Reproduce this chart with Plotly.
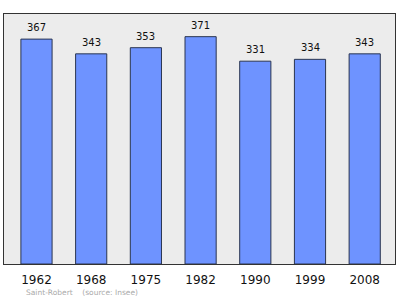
import plotly.graph_objects as go

years = ["1962", "1968", "1975", "1982", "1990", "1999", "2008"]
population = [367, 343, 353, 371, 331, 334, 343]
source_note = "Saint-Robert    (source: Insee)"

positions = list(range(len(years)))

fig = go.Figure()
fig.add_trace(go.Bar(
    x=positions, y=population, width=0.57,
    marker=dict(color="#6e93ff", line=dict(color="#2a3550", width=1)),
    hoverinfo="skip",
))

for p, v in zip(positions, population):
    fig.add_annotation(x=p, y=v, text=str(v), showarrow=False,
                       yanchor="bottom", yshift=4,
                       font=dict(family="DejaVu Sans", size=10, color="#111"))

fig.add_annotation(xref="paper", yref="paper", x=(24 - 4) / 391, y=-(292 - 264) / 250,
                   xanchor="left", yanchor="middle", showarrow=False,
                   text=source_note,
                   font=dict(family="DejaVu Sans", size=7.5, color="#aaaaaa"))

fig.update_layout(
    width=400, height=299,
    margin=dict(l=4, r=5, t=14, b=35),
    paper_bgcolor="white", plot_bgcolor="#ececec",
    showlegend=False,
    xaxis=dict(range=[-0.594, 6.554], tickvals=positions, ticktext=years,
               showgrid=False, zeroline=False, showline=True, mirror=True,
               linecolor="#333", linewidth=1, ticks="", ticklen=0,
               ticklabelstandoff=5,
               tickfont=dict(family="DejaVu Sans", size=12, color="#111")),
    yaxis=dict(range=[0, 408], showgrid=False, zeroline=False, showticklabels=False,
               showline=True, mirror=True, linecolor="#333", linewidth=1, ticks=""),
)

fig.write_html("out.html")
